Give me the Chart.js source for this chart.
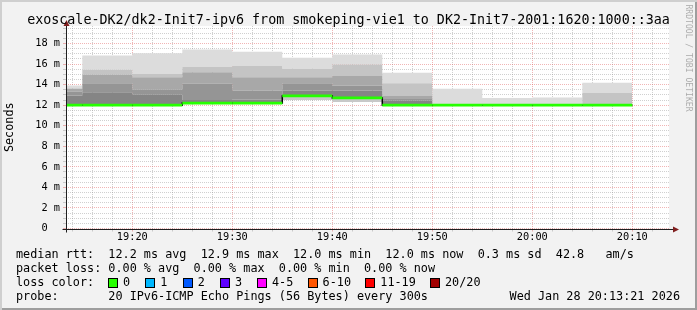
<!DOCTYPE html>
<html>
<head>
<meta charset="utf-8">
<title>smokeping</title>
<script src="https://cdn.jsdelivr.net/npm/chart.js@4.4.1/dist/chart.umd.min.js"></script>
<style>
html, body { margin: 0; padding: 0; background: #f2f2f2; }
#wrap { position: relative; width: 697px; height: 310px; overflow: hidden; background: #f2f2f2;
  box-shadow: inset 2px 2px 0 #cfcfcf, inset -2px -2px 0 #9e9e9e;
  font-family: 'DejaVu Sans Mono', monospace; color: #000; }
#chart { position: absolute; left: 0; top: 0; }
.txt { position: absolute; white-space: pre; }
#title { left: 0; width: 697px; top: 12px; font-size: 13.35px; line-height: 16px; text-align: center; }
.leg { font-size: 11.8px; line-height: 14px; }
.box { position: absolute; width: 8px; height: 8px; border: 1px solid #000; }
#wm { left: 635px; top: 53px; width: 108px; font-size: 8.1px; line-height: 10px; text-align: center;
  color: rgba(0,0,0,0.3); transform: rotate(90deg); }
</style>
</head>
<body>
<div id="wrap">
  <canvas id="chart" width="697" height="310"></canvas>
  <div id="title" class="txt"></div>
  <div id="wm" class="txt">RRDTOOL / TOBI OETIKER</div>
  <div id="legend"></div>
</div>
<script>
const titleText = 'exoscale-DK2/dk2-Init7-ipv6 from smokeping-vie1 to DK2-Init7-2001:1620:1000::3aa';

// minutes after 19:00, one block per 300s step
const blockStart = [10, 15, 20, 25, 30, 35, 40, 45, 50, 55, 60, 65];
const stepMinutes = 5;

// rtt in ms, smoke levels from bottom to top
const smokeMin  = [12.0, 12.0, 12.0, 12.1, 12.1, 12.5, 12.3, 12.0, 12.0, 12.0, 12.0, 12.0];
const medianRtt = [12.0, 12.0, 12.0, 12.2, 12.2, 12.9, 12.7, 12.0, 12.0, 12.0, 12.0, 12.0];
const smokeP1   = [12.94, 13.26, 13.0, 12.5, 12.55, 13.42, 13.42, 12.45, 12.01, 12.01, 12.01, 12.01];
const smokeP2   = [13.3, 14.14, 13.5, 14.07, 13.42, 14.14, 13.9, 12.6, 12.02, 12.02, 12.02, 12.02];
const smokeP3   = [13.6, 14.95, 14.72, 15.2, 14.72, 14.72, 14.88, 12.94, 12.03, 12.03, 12.03, 12.03];
const smokeP4   = [13.65, 15.44, 15.05, 15.7, 15.8, 15.53, 15.95, 14.14, 12.1, 12.05, 12.05, 13.17];
const smokeMax  = [13.9, 16.83, 17.05, 17.41, 17.2, 16.6, 16.93, 15.14, 13.59, 12.7, 12.75, 14.17];

const xLabelAt = [20, 30, 40, 50, 60, 70];
const xLabels = ['19:20', '19:30', '19:40', '19:50', '20:00', '20:10'];
const yLabelAt = [0, 2, 4, 6, 8, 10, 12, 14, 16, 18];
const yLabels = ['0  ', '2 m', '4 m', '6 m', '8 m', '10 m', '12 m', '14 m', '16 m', '18 m'];

const lossLabels = ['0', '1', '2', '3', '4-5', '6-10', '11-19', '20/20'];
const lossColors = ['#26ff00', '#00b8ff', '#0059ff', '#5e00ff', '#ff00ff', '#ff5500', '#ff0000', '#a10000'];
const lossBoxX = [108, 145.3, 182.7, 220, 257, 307.6, 365.3, 430];
const legendLines = [
  'median rtt:  12.2 ms avg  12.9 ms max  12.0 ms min  12.0 ms now  0.3 ms sd  42.8   am/s',
  'packet loss: 0.00 % avg  0.00 % max  0.00 % min  0.00 % now',
  'loss color:',
  'probe:       20 IPv6-ICMP Echo Pings (56 Bytes) every 300s'
];
const probeTime = 'Wed Jan 28 20:13:21 2026';

const X_MIN = 13.37, X_MAX = 73.67, Y_MAX = 19.7;
const GRID = 'rgba(143,143,143,0.42)';
const MGRID = 'rgba(222,79,79,0.42)';
const FONT = 'DejaVu Sans Mono';

// ---- html text parts
document.getElementById('title').textContent = titleText;
const legend = document.getElementById('legend');
const lineY = [247, 261.3, 275.4, 289.3];
legendLines.forEach((t, i) => {
  const d = document.createElement('div');
  d.className = 'txt leg';
  d.style.left = '16px';
  d.style.top = lineY[i] + 'px';
  d.textContent = t;
  legend.appendChild(d);
});
const tm = document.createElement('div');
tm.className = 'txt leg';
tm.style.right = '17px';
tm.style.top = lineY[3] + 'px';
tm.textContent = probeTime;
legend.appendChild(tm);
lossLabels.forEach((l, i) => {
  const b = document.createElement('div');
  b.className = 'box';
  b.style.left = lossBoxX[i] + 'px';
  b.style.top = (lineY[2] + 2.5) + 'px';
  b.style.background = lossColors[i];
  legend.appendChild(b);
  const d = document.createElement('div');
  d.className = 'txt leg';
  d.style.left = (lossBoxX[i] + 15) + 'px';
  d.style.top = lineY[2] + 'px';
  d.textContent = l;
  legend.appendChild(d);
});

// ---- chart
function steppedPoints(arr) {
  const pts = blockStart.map((t, i) => ({ x: t, y: arr[i] }));
  pts.push({ x: blockStart[blockStart.length - 1] + stepMinutes, y: arr[arr.length - 1] });
  return pts;
}
function runPoints(arr) {
  const pts = [];
  blockStart.forEach((t, i) => {
    pts.push({ x: t, y: arr[i] }, { x: t + stepMinutes, y: arr[i] });
  });
  return pts;
}

const smokeLevels = [smokeMin, medianRtt, smokeP1, smokeP2, smokeP3, smokeP4, smokeMax];
const smokeShades = [null, '#c8c8c8', '#858585', '#959595', '#a8a8a8', '#c4c4c4', '#dcdcdc'];

const datasets = smokeLevels.map((lvl, i) => ({
  data: steppedPoints(lvl),
  stepped: true,
  borderWidth: 0,
  borderColor: 'rgba(0,0,0,0)',
  backgroundColor: smokeShades[i] || 'rgba(0,0,0,0)',
  pointRadius: 0,
  fill: i === 0 ? false : '-1',
  order: 10
}));
datasets.push({
  data: steppedPoints(medianRtt), stepped: true,
  borderColor: '#000', borderWidth: 1.5, pointRadius: 0, fill: false, order: 1
});
datasets.push({
  data: runPoints(medianRtt),
  borderColor: '#26ff00', borderWidth: 2.8, pointRadius: 0, fill: false, order: 0,
  segment: { borderColor: c => c.p0.parsed.x === c.p1.parsed.x ? 'rgba(0,0,0,0)' : undefined }
});

const frame = {
  id: 'frame',
  beforeDraw(chart) {
    const a = chart.chartArea, ctx = chart.ctx;
    ctx.save();
    ctx.fillStyle = '#fff';
    ctx.fillRect(a.left, a.top, a.right - a.left, a.bottom - a.top);
    ctx.restore();
  },
  afterDraw(chart) {
    const a = chart.chartArea, ctx = chart.ctx;
    const x0 = Math.round(a.left) + 0.5, y0 = Math.round(a.bottom) + 0.5;
    ctx.save();
    ctx.strokeStyle = '#1f1f1f';
    ctx.lineWidth = 1;
    ctx.beginPath();
    ctx.moveTo(x0, y0 + 3); ctx.lineTo(x0, a.top - 1);
    ctx.moveTo(x0 - 4, y0); ctx.lineTo(a.right + 4, y0);
    ctx.stroke();
    ctx.fillStyle = '#801f1f';
    ctx.beginPath();
    ctx.moveTo(x0, a.top - 6); ctx.lineTo(x0 - 3, a.top); ctx.lineTo(x0 + 3, a.top); ctx.closePath();
    ctx.fill();
    ctx.beginPath();
    ctx.moveTo(a.right + 10, y0); ctx.lineTo(a.right + 4, y0 - 3); ctx.lineTo(a.right + 4, y0 + 3); ctx.closePath();
    ctx.fill();
    ctx.restore();
  }
};

new Chart(document.getElementById('chart').getContext('2d'), {
  type: 'line',
  data: { datasets: datasets },
  plugins: [frame],
  options: {
    responsive: false,
    animation: false,
    events: [],
    layout: { padding: { left: 0, top: 26, right: 28, bottom: 0 } },
    plugins: { legend: { display: false }, tooltip: { enabled: false } },
    scales: {
      x: {
        type: 'linear', min: X_MIN, max: X_MAX, z: 1,
        afterBuildTicks: s => {
          const t = [];
          for (let v = 14; v < X_MAX; v += 2) t.push({ value: v });
          s.ticks = t;
        },
        afterFit: s => { s.height = 81.5; },
        grid: {
          color: c => c.tick && c.tick.value % 10 === 0 ? MGRID : GRID,
          tickColor: c => c.tick && c.tick.value % 10 === 0 ? MGRID : GRID,
          tickLength: 3
        },
        border: { display: false, dash: [1, 1] },
        ticks: {
          autoSkip: false, maxRotation: 0, padding: 0, color: '#000',
          font: { family: FONT, size: 10.3 },
          callback: v => { const k = xLabelAt.indexOf(v); return k < 0 ? '' : xLabels[k]; }
        }
      },
      y: {
        type: 'linear', min: 0, max: Y_MAX, z: 1,
        afterBuildTicks: s => {
          const t = [];
          for (let v = 0; v < Y_MAX; v += 0.5) t.push({ value: v });
          s.ticks = t;
        },
        afterFit: s => { s.width = 66; },
        title: {
          display: true, text: 'Seconds', color: '#000',
          font: { family: FONT, size: 11.8 }, padding: { top: 3, bottom: 0 }
        },
        grid: {
          color: c => c.tick && c.tick.value % 2 === 0 ? MGRID : GRID,
          tickColor: c => c.tick && c.tick.value % 2 === 0 ? MGRID : GRID,
          tickLength: 3
        },
        border: { display: false, dash: [1, 1] },
        ticks: {
          autoSkip: false, padding: 3, color: '#000',
          font: { family: FONT, size: 10.3 },
          callback: v => { const k = yLabelAt.indexOf(v); return k < 0 ? '' : yLabels[k]; }
        }
      }
    }
  }
});
</script>
</body>
</html>
